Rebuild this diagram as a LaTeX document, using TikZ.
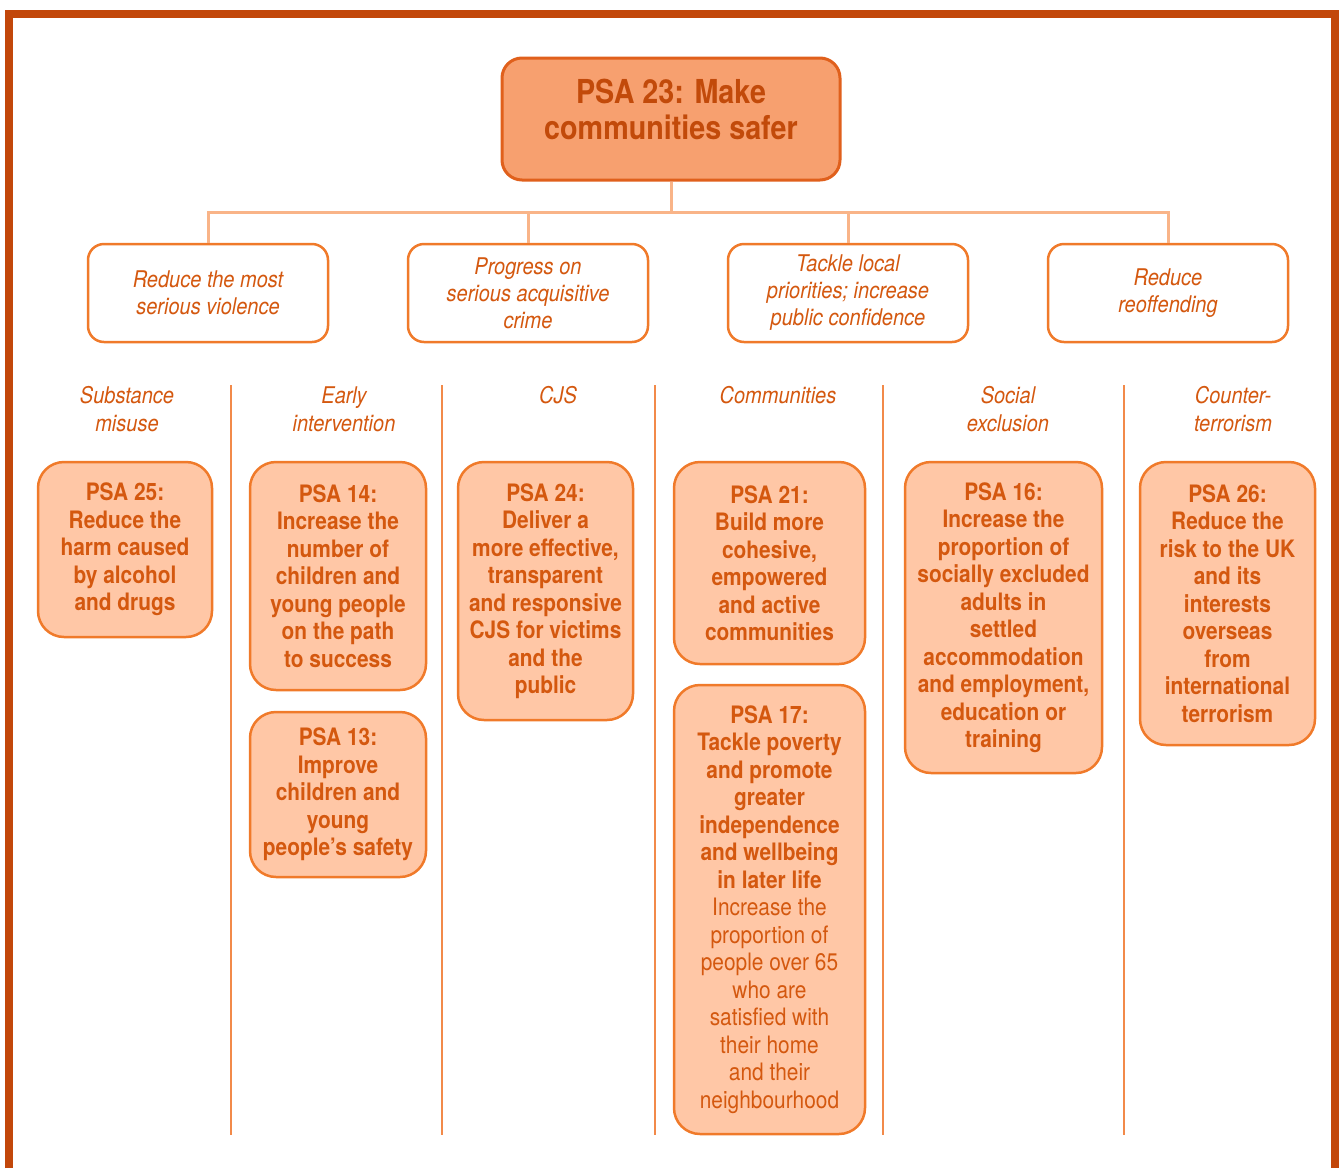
\documentclass[tikz,border=0pt]{standalone}
\usepackage{fontspec}
\setmainfont{TeX Gyre Heros}[FakeStretch=0.87]
\definecolor{framec}{HTML}{C2470A}
\definecolor{textc}{HTML}{D4580F}
\definecolor{aimtext}{HTML}{C24A0A}
\definecolor{aimfill}{HTML}{F7A06F}
\definecolor{aimline}{HTML}{E0601C}
\definecolor{psafill}{HTML}{FFC7A6}
\definecolor{boxline}{HTML}{F07A2A}
\definecolor{sepline}{HTML}{F28A4A}
\definecolor{linkc}{HTML}{F9B488}

\begin{document}
\begin{tikzpicture}[x=1pt, y=-1pt,
  every node/.style={align=center, text=textc},
  aim/.style={draw=aimline, line width=3pt, fill=aimfill, rounded corners=20pt, minimum width=338pt, minimum height=122pt, text depth=20pt, text=aimtext, font=\bfseries\fontsize{33}{36}\selectfont},
  goal/.style={draw=boxline, line width=2.5pt, fill=white, rounded corners=16pt, minimum width=240pt, minimum height=98pt, font=\itshape\fontsize{23}{27}\selectfont},
  head/.style={anchor=north, font=\itshape\fontsize{23}{28}\selectfont},
  psa/.style={draw=boxline, line width=2.5pt, fill=psafill, rounded corners=26pt, font=\bfseries\fontsize{24}{27.5}\selectfont},
  link/.style={draw=linkc, line width=3pt},
  sep/.style={draw=sepline, line width=1.5pt}
]
\useasboundingbox (0,0) rectangle (1342,1168);
\draw[framec, line width=8pt] (9,1168) -- (9,14) -- (1335,14) -- (1335,1168);

% top and second level
\node[aim] (aim) at (671,119) {PSA 23: Make\\communities safer};
\node[goal] (g1) at (208,293) {Reduce the most\\serious violence};
\node[goal] (g2) at (528,293) {Progress on\\serious acquisitive\\crime};
\node[goal] (g3) at (848,293) {Tackle local\\priorities; increase\\public confidence};
\node[goal] (g4) at (1168,293) {Reduce\\reoffending};
\coordinate (fork) at (671,212);
\draw[link] (aim) -- (fork);
\foreach \g in {g1,g2,g3,g4}
  \draw[link] (fork) -| (\g);

% columns
\foreach \x in {231,442,655,883,1124}
  \draw[sep] (\x,385) -- (\x,1135);
\node[head] (h1) at (127,383) {Substance\\misuse};
\node[head] (h2) at (344,383) {Early\\intervention};
\node[head] (h3) at (558,383) {CJS};
\node[head] (h4) at (778,383) {Communities};
\node[head] (h5) at (1008,383) {Social\\exclusion};
\node[head] (h6) at (1233,383) {Counter-\\terrorism};

% PSA boxes
\node[psa, minimum width=174pt, minimum height=175pt] (psa25) at (125,549.5)
  {PSA 25:\\Reduce the\\harm caused\\by alcohol\\and drugs};
\node[psa, minimum width=176pt, minimum height=228pt] (psa14) at (338,576)
  {PSA 14:\\Increase the\\number of\\children and\\young people\\on the path\\to success};
\node[psa, minimum width=176pt, minimum height=165pt] (psa13) at (338,794.5)
  {PSA 13:\\Improve\\children and\\young\\people's safety};
\node[psa, minimum width=175pt, minimum height=258pt] (psa24) at (545.5,591)
  {PSA 24:\\Deliver a\\more effective,\\transparent\\and responsive\\CJS for victims\\and the\\public};
\node[psa, minimum width=191pt, minimum height=202pt] (psa21) at (769.5,563)
  {PSA 21:\\Build more\\cohesive,\\empowered\\and active\\communities};
\node[psa, minimum width=191pt, minimum height=449pt] (psa17) at (769.5,909.5)
  {PSA 17:\\Tackle poverty\\and promote\\greater\\independence\\and wellbeing\\in later life\\{\mdseries Increase the}\\{\mdseries proportion of}\\{\mdseries people over 65}\\{\mdseries who are}\\{\mdseries satisfied with}\\{\mdseries their home}\\{\mdseries and their}\\{\mdseries neighbourhood}};
\node[psa, minimum width=197pt, minimum height=311pt] (psa16) at (1003.5,617.5)
  {PSA 16:\\Increase the\\proportion of\\socially excluded\\adults in\\settled\\accommodation\\and employment,\\education or\\training};
\node[psa, minimum width=175pt, minimum height=283pt] (psa26) at (1227.5,603.5)
  {PSA 26:\\Reduce the\\risk to the UK\\and its\\interests\\overseas\\from\\international\\terrorism};
\end{tikzpicture}
\end{document}
